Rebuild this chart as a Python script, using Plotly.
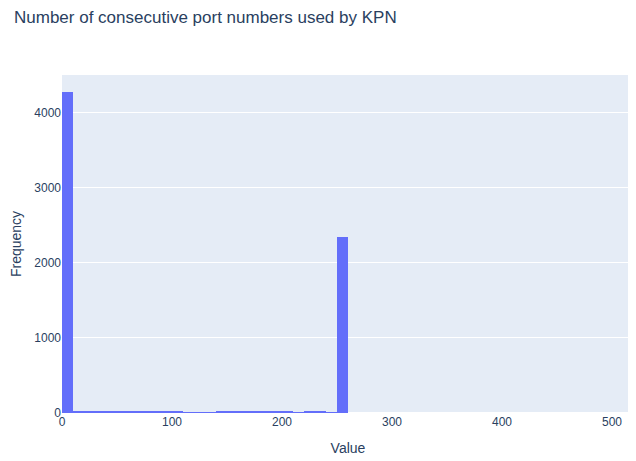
import plotly.graph_objects as go

bin_starts = [0, 10, 20, 30, 40, 50, 60, 70, 80, 90, 100, 110, 120, 130, 140, 150, 160, 170, 180,
              190, 200, 210, 220, 230, 240, 250]
counts = [4280, 30, 18, 18, 18, 18, 18, 18, 18, 18, 18, 5, 5, 5, 18, 18, 18, 18, 18,
          18, 18, 5, 18, 18, 5, 2350]
bin_size = 10

fig = go.Figure(go.Histogram(
    x=[s + bin_size / 2 for s in bin_starts],
    y=counts,
    histfunc="sum",
    xbins=dict(start=0, end=520, size=bin_size),
    marker=dict(color="#636efa"),
))

fig.update_layout(
    template="plotly",
    width=636, height=461,
    font=dict(family="Liberation Sans, Arial, sans-serif"),
    title=dict(text="Number of consecutive port numbers used by KPN", x=6 / 636, xanchor="left",
               y=1 - 9 / 461, yanchor="middle", font=dict(size=17)),
    margin=dict(l=54, r=10, t=67, b=56),
    bargap=0,
    showlegend=False,
    xaxis=dict(title=dict(text="Value"), range=[0, 520], automargin=False),
    yaxis=dict(title=dict(text="Frequency", standoff=14), range=[0, 4505], dtick=1000,
               automargin=False),
)

fig.write_html("out.html")
